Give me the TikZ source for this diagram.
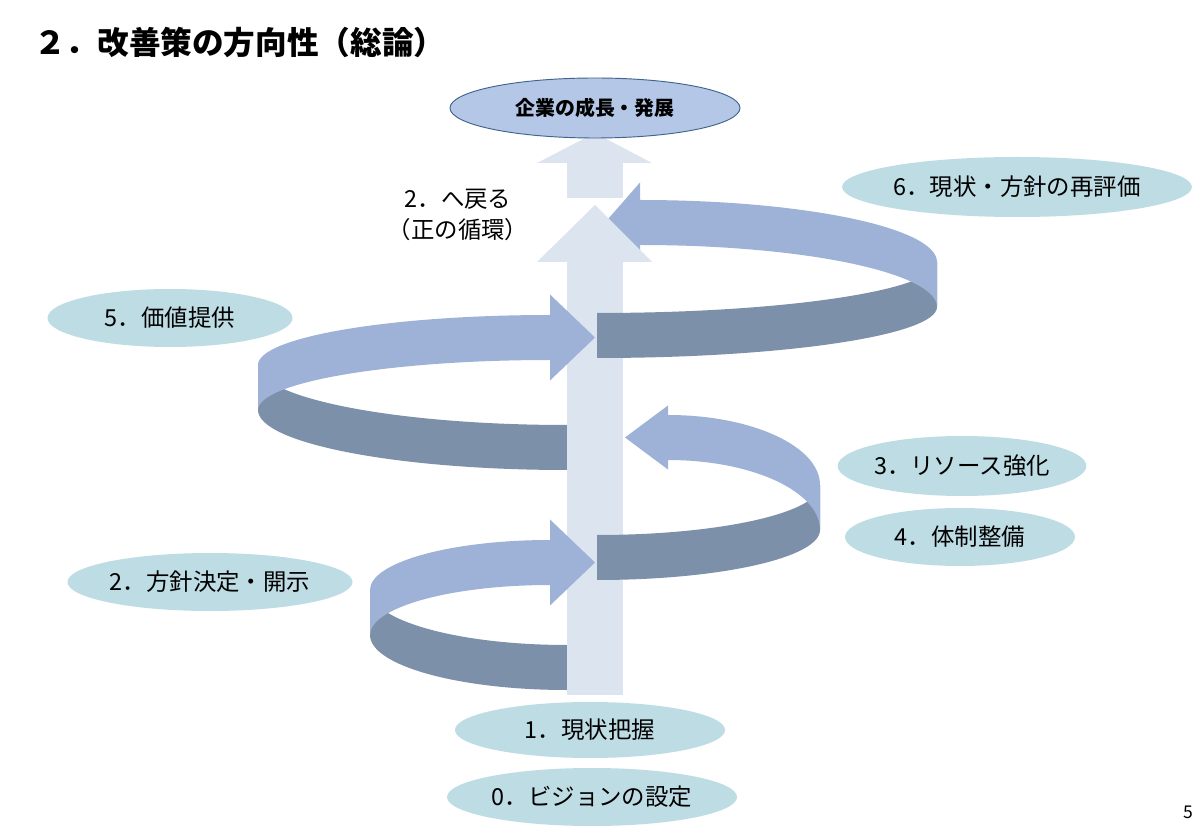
\documentclass[tikz,border=0pt]{standalone}
\usepackage{fontspec}
\setmainfont{Noto Sans CJK JP}
\usetikzlibrary{shapes.geometric}
\definecolor{lightband}{HTML}{9DB2D6}
\definecolor{darkband}{HTML}{7D90AA}
\definecolor{shaft}{HTML}{DCE4F0}
\definecolor{labfill}{HTML}{BEDCE4}
\definecolor{topfill}{HTML}{B4C7E7}
\definecolor{topline}{HTML}{41648F}
\begin{document}
\begin{tikzpicture}[x=0.03cm,y=0.03cm,
  lab/.style n args={2}{ellipse,fill=labfill,draw=none,minimum width=#1*0.03cm,minimum height=#2*0.03cm,inner sep=0pt,font=\fontsize{20}{22}\selectfont},
  light/.style={fill=lightband,draw=none},
  dark/.style={fill=darkband,draw=none},
  sh/.style={fill=shaft,draw=none}]
\useasboundingbox[fill=white] (0,0) rectangle (1200,827);
% title
\node[anchor=west,font=\fontsize{27}{30}\bfseries\selectfont] (title) at (30,785) {２．改善策の方向性（総論）};
\node[font=\fontsize{15}{16}\selectfont] (pg) at (1188,15) {5};
% dark fronts (left loops)
\fill[dark] (370,237) arc[start angle=180,end angle=270,x radius=197,y radius=55] -- ++(0,-45) arc[start angle=270,end angle=180,x radius=197,y radius=55] -- cycle;
\fill[dark] (258,462) arc[start angle=180,end angle=270,x radius=309,y radius=60] -- ++(0,-45) arc[start angle=270,end angle=180,x radius=309,y radius=60] -- cycle;
% shaft body
\fill[sh] (567,132) rectangle (623,565);
% dark fronts (right loops)
\fill[dark] (820,342) arc[start angle=0,end angle=-90,x radius=223,y radius=50] -- ++(0,-45) arc[start angle=-90,end angle=0,x radius=223,y radius=50] -- cycle;
\fill[dark] (937,565) arc[start angle=0,end angle=-90,x radius=340,y radius=51] -- ++(0,-45) arc[start angle=-90,end angle=0,x radius=340,y radius=51] -- cycle;
% light backs with heads
\fill[light] (370,237) arc[start angle=180,end angle=90,x radius=180,y radius=50] -- ++(0,-45) arc[start angle=90,end angle=180,x radius=180,y radius=50] -- cycle;
\fill[light] (550,307.5) -- (595,264.5) -- (550,221.5) -- cycle;
\fill[light] (258,462) arc[start angle=180,end angle=90,x radius=292,y radius=50] -- ++(0,-45) arc[start angle=90,end angle=180,x radius=292,y radius=50] -- cycle;
\fill[light] (550,532.5) -- (595,489.5) -- (550,446.5) -- cycle;
\fill[light] (820,342) arc[start angle=0,end angle=90,x radius=152,y radius=70] -- ++(0,-45) arc[start angle=90,end angle=0,x radius=152,y radius=70] -- cycle;
\fill[light] (668,421.5) -- (625,389.5) -- (668,357.5) -- cycle;
\fill[light] (937,565) arc[start angle=0,end angle=90,x radius=297,y radius=62] -- ++(0,-45) arc[start angle=90,end angle=0,x radius=297,y radius=62] -- cycle;
\fill[light] (640,644.5) -- (605,604.5) -- (640,564.5) -- cycle;
% shaft head
\fill[sh] (537,565) -- (595,622) -- (652,565) -- cycle;
% upper arrow
\fill[sh] (567,629) rectangle (623,664);
\fill[sh] (537,664) -- (595,694) -- (652,664) -- cycle;
% top ellipse
\node[ellipse,fill=topfill,draw=topline,line width=0.8pt,minimum width=290*0.03cm,minimum height=60*0.03cm,inner sep=0pt,font=\fontsize{17}{19}\bfseries\selectfont] (goal) at (595,719) {企業の成長・発展};
% labels
\node[lab={300}{60}] (l6) at (1017,640) {6．現状・方針の再評価};
\node[lab={245}{58}] (l5) at (170,509) {5．価値提供};
\node[lab={245}{60}] (l3) at (962,361) {3．リソース強化};
\node[lab={230}{58}] (l4) at (960,290) {4．体制整備};
\node[lab={285}{58}] (l2) at (210,245) {2．方針決定・開示};
\node[lab={270}{56}] (l1) at (590,97) {1．現状把握};
\node[lab={290}{58}] (l0) at (592,30) {0．ビジョンの設定};
\node[align=center,font=\fontsize{20}{27}\selectfont] (back) at (458,612) {2．へ戻る\\（正の循環）};
\end{tikzpicture}
\end{document}
